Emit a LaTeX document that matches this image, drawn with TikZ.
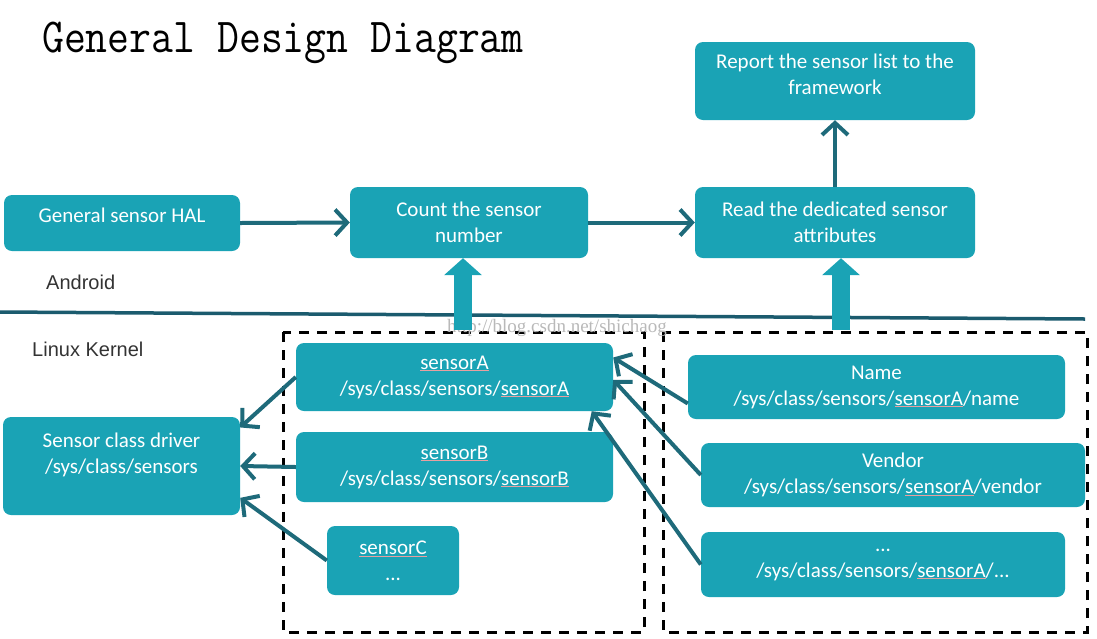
\documentclass[tikz,border=0pt]{standalone}
\usepackage{fontspec}
\usepackage{graphicx}
\setmainfont{Carlito}
\newfontfamily\arialfont{Liberation Sans}
\newfontfamily\wmfont{Liberation Serif}
\usetikzlibrary{arrows.meta}
\usetikzlibrary{positioning}
\definecolor{boxteal}{HTML}{1AA3B5}
\definecolor{linkteal}{HTML}{1E6A7A}
\definecolor{rulenavy}{HTML}{1B5B6E}
\definecolor{spellred}{HTML}{E8A0A0}
\newcommand{\spell}[1]{{\color{spellred}\underline{\color{white}#1}}}

\begin{document}
\begin{tikzpicture}[x=1pt, y=-1pt,
    box/.style={fill=boxteal, rounded corners=8pt, text=white, align=center,
      inner sep=0pt, font=\fontsize{21}{26}\selectfont},
    link/.style={draw=linkteal, line width=4pt,
      -{Straight Barb[length=12pt, width=26pt, line width=4pt]}},
    fat/.style={draw=boxteal, line width=18pt, -{Triangle[length=17pt, width=37pt]}},
    dashbox/.style={draw=black, line width=3pt, dash pattern=on 10pt off 8pt}]
    \useasboundingbox (0,0) rectangle (1097,638);

    \node[anchor=base west, inner sep=0pt] (title) at (42,52)
      {\ttfamily\fontsize{42.5}{42.5}\selectfont\scalebox{1}[1.15]{General Design Diagram}};

    % Android side
    \node[box, minimum width=236pt, minimum height=56pt, text depth=16pt] (hal) at (122,223) {General sensor HAL};
    \node[box, minimum width=238pt, minimum height=71pt] (count) at (469,222.5) {Count the sensor\\number};
    \node[box, minimum width=280pt, minimum height=71pt] (read) at (835,222.5) {Read the dedicated sensor\\attributes};
    \node[box, minimum width=280pt, minimum height=78pt, text depth=14pt] (report) at (835,81) {Report the sensor list to the\\framework};
    \node[anchor=west, inner sep=0pt, text=black!80, font=\arialfont\fontsize{20}{24}\selectfont] (android) at (46,282) {Android};

    \draw[rulenavy, line width=3.5pt] (0,312) -- (1085,319);

    \node[anchor=west, inner sep=0pt, text=black!80, font=\arialfont\fontsize{20}{24}\selectfont] (kernel) at (32,349) {Linux Kernel};

    % Kernel side
    \draw[dashbox] (283,332) rectangle (644,632);
    \draw[dashbox] (663,332) rectangle (1087,632);

    \node[box, minimum width=237pt, minimum height=98pt] (driver) at (121.5,466) {Sensor class driver\\/sys/class/sensors\\\mbox{}};
    \node[box, minimum width=317pt, minimum height=68pt] (sA) at (454.5,377) {\spell{sensorA}\\/sys/class/sensors/\spell{sensorA}};
    \node[box, minimum width=317pt, minimum height=70pt] (sB) at (454.5,467) {\spell{sensorB}\\/sys/class/sensors/\spell{sensorB}};
    \node[box, minimum width=132pt, minimum height=69pt] (sC) at (393,560.5) {\spell{sensorC}\\...};

    \node[box, minimum width=377pt, minimum height=64pt] (name) at (876.5,387) {Name\\/sys/class/sensors/\spell{sensorA}/name};
    \node[box, minimum width=384pt, minimum height=64pt] (vendor) at (893,475) {Vendor\\/sys/class/sensors/\spell{sensorA}/vendor};
    \node[box, minimum width=364pt, minimum height=65pt] (dots) at (883,564.5) {...\\/sys/class/sensors/\spell{sensorA}/...};

    \node[inner sep=0pt, text=gray!55, font=\wmfont\fontsize{19}{19}\selectfont] (mark) at (557,328) {http://blog.csdn.net/shichaog};

    % flow
    \draw[link] (hal.east) -- (count.west);
    \draw[link] (count.east) -- (read.west);
    \draw[link] (read.north) -- (report.south);

    \coordinate (cup) at (463,330);
    \coordinate (rup) at (841,330);
    \draw[fat] (cup) -- (cup |- count.south);
    \draw[fat] (rup) -- (rup |- read.south);

    \draw[link] (sA.west) -- (driver.18);
    \draw[link] (sB.west) -- (driver.east);
    \draw[link] (sC.west) -- (driver.-15);

    \draw[link] (name.185) -- (sA.7);
    \draw[link] (vendor.west) -- (sA.-1);
    \draw[link] (dots.west) -- (sA.-14);
\end{tikzpicture}
\end{document}
